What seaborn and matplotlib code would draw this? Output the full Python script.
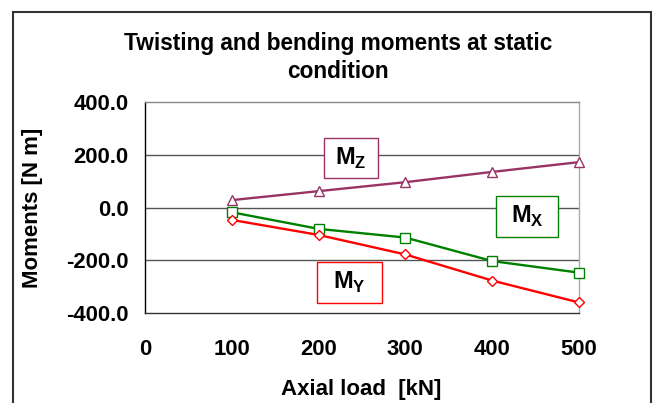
import matplotlib
matplotlib.use("Agg")
import matplotlib.pyplot as plt
import seaborn as sns
import pandas as pd
from matplotlib.patches import Rectangle

axial_load = [100, 200, 300, 400, 500]
mz = [28, 62, 96, 135, 172]
mx = [-18, -81, -114, -203, -247]
my = [-47, -104, -178, -277, -360]
x_ticks = [0, 100, 200, 300, 400, 500]
y_ticks = [-400, -200, 0, 200, 400]

sns.set_theme(style="white")
plt.rcParams['font.family'] = ['Liberation Sans', 'DejaVu Sans']
plt.rcParams['font.weight'] = 'bold'
plt.rcParams['text.color'] = 'black'
plt.rcParams['axes.labelcolor'] = 'black'
plt.rcParams['xtick.color'] = 'black'
plt.rcParams['ytick.color'] = 'black'
plt.rcParams['mathtext.fontset'] = 'custom'
plt.rcParams['mathtext.rm'] = 'Liberation Sans'
plt.rcParams['mathtext.bf'] = 'Liberation Sans:bold'

fig = plt.figure(figsize=(6.54, 4.03), dpi=100)
ax = fig.add_axes([0.2217, 0.2233, 0.6636, 0.5236])

series = [("Mz", mz, "#993366", "^"), ("Mx", mx, "#008000", "s"), ("My", my, "#FF0000", "D")]
for name, vals, col, mk in series:
    df = pd.DataFrame({"load": axial_load, "moment": vals})
    sns.lineplot(data=df, x="load", y="moment", ax=ax, color=col, lw=1.7,
                 marker=mk, markersize=7 if mk != "D" else 5.5, markerfacecolor="white",
                 markeredgecolor=col, markeredgewidth=1.0, zorder=3, clip_on=False)

ax.set_xlim(0, 500)
ax.set_ylim(-400, 400)
ax.set_xticks(x_ticks)
ax.set_yticks(y_ticks)
ax.set_xticklabels([str(v) for v in x_ticks])
ax.set_yticklabels([f"{v:.1f}" for v in y_ticks])
for y in [-200, 0, 200]:
    ax.axhline(y, color="#555555", lw=1.0, zorder=1)
ax.spines['top'].set_color("#888888")
ax.spines['right'].set_color("#aaaaaa")
ax.spines['left'].set_color("black")
ax.spines['bottom'].set_color("#333333")
for s in ax.spines.values():
    s.set_linewidth(1.0)
ax.tick_params(axis='both', direction='out', length=5, width=1, color='black',
               labelsize=15.8)
ax.tick_params(axis='y', pad=7)
ax.tick_params(axis='x', pad=14)
for lab in ax.get_xticklabels() + ax.get_yticklabels():
    lab.set_fontweight('bold')

ax.set_xlabel("Axial load  [kN]", fontsize=16, fontweight='bold')
ax.set_ylabel("Moments [N m]", fontsize=16, fontweight='bold')
ax.xaxis.set_label_coords(0.498, -0.315)
ax.yaxis.set_label_coords(-0.235, 0.5)

fig.text(0.517, 0.857, "Twisting and bending moments at static\ncondition",
         ha='center', va='center', fontsize=16.3, fontweight='bold', linespacing=1.3)

boxes = [
    (0.412, 0.640, 0.124, 0.190, "#993366", r"$\mathbf{M}_{\mathbf{Z}}$"),
    (0.809, 0.360, 0.143, 0.194, "#008000", r"$\mathbf{M}_{\mathbf{X}}$"),
    (0.396, 0.047, 0.150, 0.194, "#FF0000", r"$\mathbf{M}_{\mathbf{Y}}$"),
]
for x0, y0, w, h, col, txt in boxes:
    ax.add_patch(Rectangle((x0, y0), w, h, transform=ax.transAxes, facecolor="white",
                           edgecolor=col, lw=1.0, zorder=4, clip_on=False))
    ax.text(x0 + w / 2, y0 + h / 2, txt, transform=ax.transAxes, ha='center', va='center',
            fontsize=17, color='black', zorder=5)

fig.patches.append(Rectangle((12.5 / 654, -0.05), (651 - 12.5) / 654, 1.05 - 12 / 403,
                             transform=fig.transFigure, fill=False, edgecolor="#333333",
                             lw=1.5))

fig.savefig("out.png", dpi=100)
